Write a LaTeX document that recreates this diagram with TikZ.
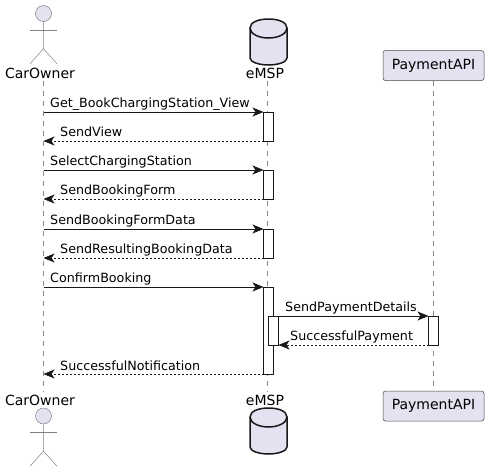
\documentclass[tikz,border=0pt]{standalone}
\usepackage{fontspec}
\setmainfont{DejaVu Sans}
\usetikzlibrary{arrows.meta}
\definecolor{partfill}{HTML}{E2E2F0}
\definecolor{partline}{HTML}{181818}
\tikzset{
  partbox/.style={draw=partline!80, fill=partfill, line width=.5pt, rounded corners=2.5pt, minimum width=101pt, minimum height=30pt, inner sep=0pt, font=\fontsize{14pt}{16pt}\selectfont},
  partlabel/.style={anchor=base, inner sep=2.5pt, font=\fontsize{14pt}{16pt}\selectfont},
  dbline/.style={draw=partline, fill=partfill, line width=1.5pt},
  actorhead/.style={circle, draw=partline!55, fill=partfill, line width=.5pt, minimum size=16pt, inner sep=0pt},
  actorline/.style={draw=partline!55, line width=.5pt},
  lifeline/.style={draw=partline!50, line width=.6pt, dash pattern=on 5pt off 5pt},
  activation/.style={draw=partline, fill=white, line width=.8pt, minimum width=10pt, inner sep=0pt, outer sep=0pt},
  msg/.style={draw=partline, line width=.8pt, -{Stealth[length=11pt, width=9pt, inset=3pt]}},
  reply/.style={msg, dash pattern=on 2pt off 2pt},
  msglabel/.style={anchor=base west, inner sep=0pt}
}
\begin{document}
\begin{tikzpicture}[x=1pt, y=-1pt, font=\fontsize{12.7pt}{15pt}\selectfont]
  \useasboundingbox (0, 0) rectangle (488, 472);

  % participants, top and bottom
  \node[partlabel] (ownertop) at (40, 78) {CarOwner};
  \node[partlabel] (ownerbot) at (40, 405) {CarOwner};
  \node[partlabel] (emsptop) at (265, 78) {eMSP};
  \node[partlabel] (emspbot) at (265, 405) {eMSP};
  \node[partbox] (paytop) at (433.5, 65.5) {PaymentAPI};
  \node[partbox] (paybot) at (433.5, 406) {PaymentAPI};

  \foreach \y in {19, 408} {
    \path[dbline] (250, \y+9) .. controls (250, \y+3) and (259, \y) .. (268.5, \y)
      .. controls (278, \y) and (287, \y+3) .. (287, \y+9)
      -- (287, \y+39) .. controls (287, \y+43) and (278, \y+46) .. (268.5, \y+46)
      .. controls (259, \y+46) and (250, \y+43) .. (250, \y+39) -- cycle;
    \draw[dbline, fill=none] (250, \y+9) .. controls (250, \y+15) and (259, \y+19) .. (268.5, \y+19)
      .. controls (278, \y+19) and (287, \y+15) .. (287, \y+9);
  }

  \foreach[count=\i] \y in {13.5, 416} {
    \node[actorhead] (head\i) at (43.5, \y) {};
    \draw[actorline] (head\i.south) -- ++(0, 27) -- ++(-13.5, 15);
    \draw[actorline] (head\i.south) ++(0, 27) -- ++(13.5, 15);
    \draw[actorline] (head\i.south) ++(-13.5, 8) -- ++(27, 0);
  }

  % lifelines
  \draw[lifeline] (43.5, 0 |- ownertop.south) -- (43.5, 0 |- ownerbot.north);
  \draw[lifeline] (267.5, 0 |- emsptop.south) -- (267.5, 0 |- emspbot.north);
  \draw[lifeline] (paytop.south) -- (paybot.north);

  % activations
  \foreach[count=\i] \ya/\yb in {112/141, 170/199, 229/258, 287/374}
    \node[activation, minimum height=\yb pt-\ya pt] (act\i) at (268.5, {(\ya+\yb)/2}) {};
  \node[activation, minimum height=29pt] (nest) at (273.5, 330.5) {};
  \node[activation, minimum height=29pt] (payact) at (433.5, 330.5) {};

  % free ends on the CarOwner lifeline
  \foreach[count=\i] \y in {112, 141, 170, 199, 229, 258, 287, 374}
    \coordinate (own\i) at (43.5, \y);

  \draw[msg] (own1) -- (act1.north west);
  \draw[reply] (act1.south west) -- (own2);
  \draw[msg] (own3) -- (act2.north west);
  \draw[reply] (act2.south west) -- (own4);
  \draw[msg] (own5) -- (act3.north west);
  \draw[reply] (act3.south west) -- (own6);
  \draw[msg] (own7) -- (act4.north west);
  \draw[msg] (nest.north east) -- (payact.north west);
  \draw[reply] (payact.south west) -- (nest.south east);
  \draw[reply] (act4.south west) -- (own8);

  \node[msglabel] (lab1) at (50, 107) {Get\_BookChargingStation\_View};
  \node[msglabel] (lab2) at (60, 136) {SendView};
  \node[msglabel] (lab3) at (50, 165) {SelectChargingStation};
  \node[msglabel] (lab4) at (60, 194) {SendBookingForm};
  \node[msglabel] (lab5) at (50, 224) {SendBookingFormData};
  \node[msglabel] (lab6) at (60, 253) {SendResultingBookingData};
  \node[msglabel] (lab7) at (50, 282) {ConfirmBooking};
  \node[msglabel] (lab8) at (285, 311) {SendPaymentDetails};
  \node[msglabel] (lab9) at (290, 340) {SuccessfulPayment};
  \node[msglabel] (lab10) at (60, 370) {SuccessfulNotification};
\end{tikzpicture}
\end{document}
